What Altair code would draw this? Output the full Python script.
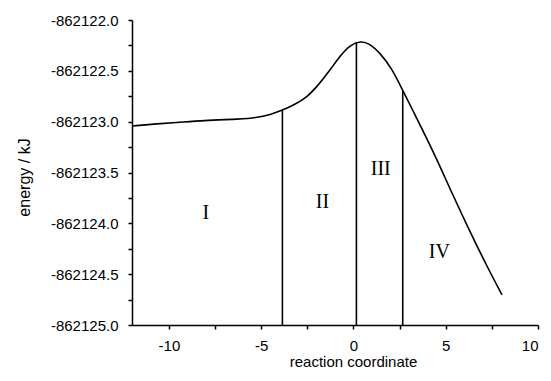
import altair as alt
import pandas as pd

# Energy profile along the reaction coordinate
coord = [-11.95, -10.86, -9.62, -8.16, -6.11, -5.30, -4.49, -3.85, -3.22, -2.50,
         -1.88, -1.24, -0.70, -0.16, 0.38, 0.83, 1.46, 2.09, 2.69, 3.26,
         3.62, 4.54, 5.24, 6.32, 7.24, 8.05]
energy = [-862123.042, -862123.023, -862123.010, -862122.988, -862122.975, -862122.963,
          -862122.930, -862122.888, -862122.836, -862122.758, -862122.635, -862122.486,
          -862122.346, -862122.242, -862122.208, -862122.226, -862122.327, -862122.480,
          -862122.700, -862122.905, -862123.035, -862123.377, -862123.665, -862124.085,
          -862124.425, -862124.704]

# Region boundaries (vertical lines from axis up to curve)
boundary_x = [-3.85, 0.16, 2.67]
boundary_top = [-862122.888, -862122.222, -862122.695]
axis_bottom = -862125.0

# Region labels
region_labels = ["I", "II", "III", "IV"]
label_x = [-8.0, -1.68, 1.48, 4.65]
label_y = [-862123.90, -862123.79, -862123.47, -862124.28]

x_ticks = [-10, -7.5, -5, -2.5, 0, 2.5, 5, 7.5, 10]
y_ticks = [-862125.0 + 0.25 * i for i in range(13)]

curve = pd.DataFrame({"x": coord, "energy": energy})
bounds = pd.DataFrame({"x": boundary_x, "energy": boundary_top})
labels = pd.DataFrame({"x": label_x, "energy": label_y, "label": region_labels})

FONT = "Liberation Sans"

x_enc = alt.X(
    "x:Q",
    scale=alt.Scale(domain=[-12, 10], nice=False, zero=False),
    axis=alt.Axis(
        title="reaction coordinate",
        values=x_ticks,
        labelExpr="datum.value % 5 == 0 ? replace(format(datum.value, 'd'), '\u2212', '-') : ''",
        grid=False,
        tickSize=4,
        labelPadding=9,
        titleX=221,
        titleY=41,
        titleBaseline="alphabetic",
        titleAlign="center",
    ),
)
y_enc = alt.Y(
    "energy:Q",
    scale=alt.Scale(domain=[-862125.0, -862122.0], nice=False, zero=False),
    axis=alt.Axis(
        title="energy / kJ",
        values=y_ticks,
        labelExpr="(datum.value * 2) % 1 == 0 ? replace(format(datum.value, '.1f'), '\u2212', '-') : ''",
        grid=False,
        tickSize=4,
        labelPadding=10,
        titleX=-108,
        titleY=157,
        titleAngle=270,
        titleAlign="center",
        titleBaseline="middle",
        titleFontSize=16,
    ),
)

line = alt.Chart(curve).mark_line(
    color="black", strokeWidth=1.6, interpolate="basis"
).encode(x=x_enc, y=y_enc)

rules = alt.Chart(bounds).mark_rule(color="black", strokeWidth=1.6).encode(
    x=x_enc, y=y_enc, y2=alt.datum(axis_bottom)
)

text = alt.Chart(labels).mark_text(
    font="Liberation Serif", fontSize=20, color="black", align="center", baseline="middle"
).encode(x=x_enc, y=y_enc, text="label:N")

chart = (
    alt.layer(line, rules, text)
    .properties(
        width=406,
        height=305,
        autosize=alt.AutoSizeParams(type="none"),
        padding={"left": 124, "top": 12, "right": 5, "bottom": 48},
        background="white",
    )
    .configure_view(stroke=None)
    .configure_axis(
        labelFont=FONT,
        titleFont=FONT,
        labelFontSize=15,
        titleFontSize=15,
        titleFontWeight="normal",
        labelColor="black",
        titleColor="black",
        domainColor="black",
        tickColor="black",
        domainWidth=1.5,
        tickWidth=1.5,
    )
)

chart.save("out.html", embed_options={"renderer": "svg", "actions": False})
